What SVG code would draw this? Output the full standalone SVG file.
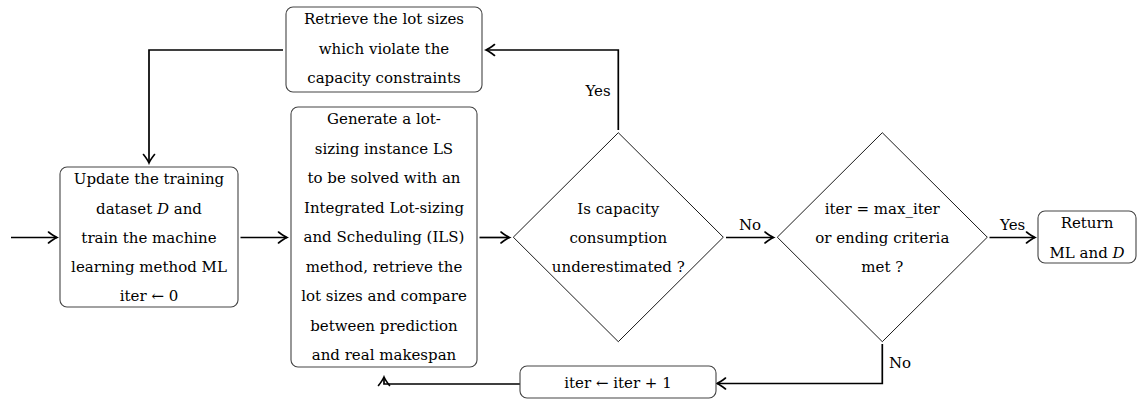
<svg xmlns="http://www.w3.org/2000/svg" width="1137" height="399" viewBox="0 0 1137 399">
<style>
text{font-family:"DejaVu Serif","Liberation Serif",serif;font-size:15px;fill:#000;text-anchor:middle}
.box{fill:#fff;stroke:#444;stroke-width:1.1}
.dia{fill:#fff;stroke:#000;stroke-width:0.9}
.edge{fill:none;stroke:#000;stroke-width:1.7;marker-end:url(#arr)}
.it{font-style:italic}
</style>
<defs>
<marker id="arr" markerUnits="userSpaceOnUse" viewBox="-10 -7 12 14" refX="0" refY="0" markerWidth="12" markerHeight="14" orient="auto">
<path d="M -8.5 -5.5 Q -3 -1.2 0 0 Q -3 1.2 -8.5 5.5" fill="none" stroke="#000" stroke-width="1.6" stroke-linecap="round"/>
</marker>
</defs>
<g id="connectors">
<path class="edge" d="M 11 237.5 H 57"/>
<path class="edge" d="M 240.5 237.5 H 287"/>
<path class="edge" d="M 479.5 237.5 H 509.5"/>
<path class="edge" d="M 726 237.5 H 773.5"/>
<path class="edge" d="M 989.5 237.5 H 1035"/>
<path class="edge" d="M 618.3 130 V 50 H 486"/>
<path class="edge" d="M 283 50 H 149 V 163"/>
<path class="edge" d="M 882.3 344 V 383.5 H 717"/>
<path class="edge" d="M 520 384 H 384 V 377"/>
<text x="598" y="96">Yes</text>
<text x="750" y="230">No</text>
<text x="1012.7" y="230">Yes</text>
<text x="900" y="368">No</text>
</g>
<g id="retrieve">
<rect class="box" x="286" y="7" width="196" height="85" rx="7"/>
<text x="384" y="24">Retrieve the lot sizes</text>
<text x="384" y="54">which violate the</text>
<text x="384" y="83">capacity constraints</text>
</g>
<g id="update">
<rect class="box" x="60" y="167" width="178" height="140" rx="7"/>
<text x="149" y="184">Update the training</text>
<text x="149" y="213.5">dataset <tspan class="it">D</tspan> and</text>
<text x="149" y="243">train the machine</text>
<text x="149" y="272">learning method ML</text>
<text x="149" y="301">iter ← 0</text>
</g>
<g id="generate">
<rect class="box" x="291" y="107" width="186" height="260" rx="7"/>
<text x="384" y="124">Generate a lot-</text>
<text x="384" y="153.5">sizing instance LS</text>
<text x="384" y="183">to be solved with an</text>
<text x="384" y="212.5">Integrated Lot-sizing</text>
<text x="384" y="242">and Scheduling (ILS)</text>
<text x="384" y="271.5">method, retrieve the</text>
<text x="384" y="301">lot sizes and compare</text>
<text x="384" y="330.5">between prediction</text>
<text x="384" y="360">and real makespan</text>
</g>
<g id="decision1">
<polygon class="dia" points="618.3,132.7 723.3,237.2 618.3,341.7 513.3,237.2"/>
<text x="618.3" y="214">Is capacity</text>
<text x="618.3" y="243">consumption</text>
<text x="618.3" y="272">underestimated ?</text>
</g>
<g id="decision2">
<polygon class="dia" points="882.3,132.7 987.3,237.2 882.3,341.7 777.3,237.2"/>
<text x="882.3" y="214">iter = max_iter</text>
<text x="882.3" y="243">or ending criteria</text>
<text x="882.3" y="272">met ?</text>
</g>
<g id="return">
<rect class="box" x="1038" y="211" width="98" height="52" rx="7"/>
<text x="1087" y="228">Return</text>
<text x="1087" y="258">ML and <tspan class="it">D</tspan></text>
</g>
<g id="increment">
<rect class="box" x="520" y="366" width="196" height="32" rx="7"/>
<text x="618" y="388">iter ← iter + 1</text>
</g>
</svg>
